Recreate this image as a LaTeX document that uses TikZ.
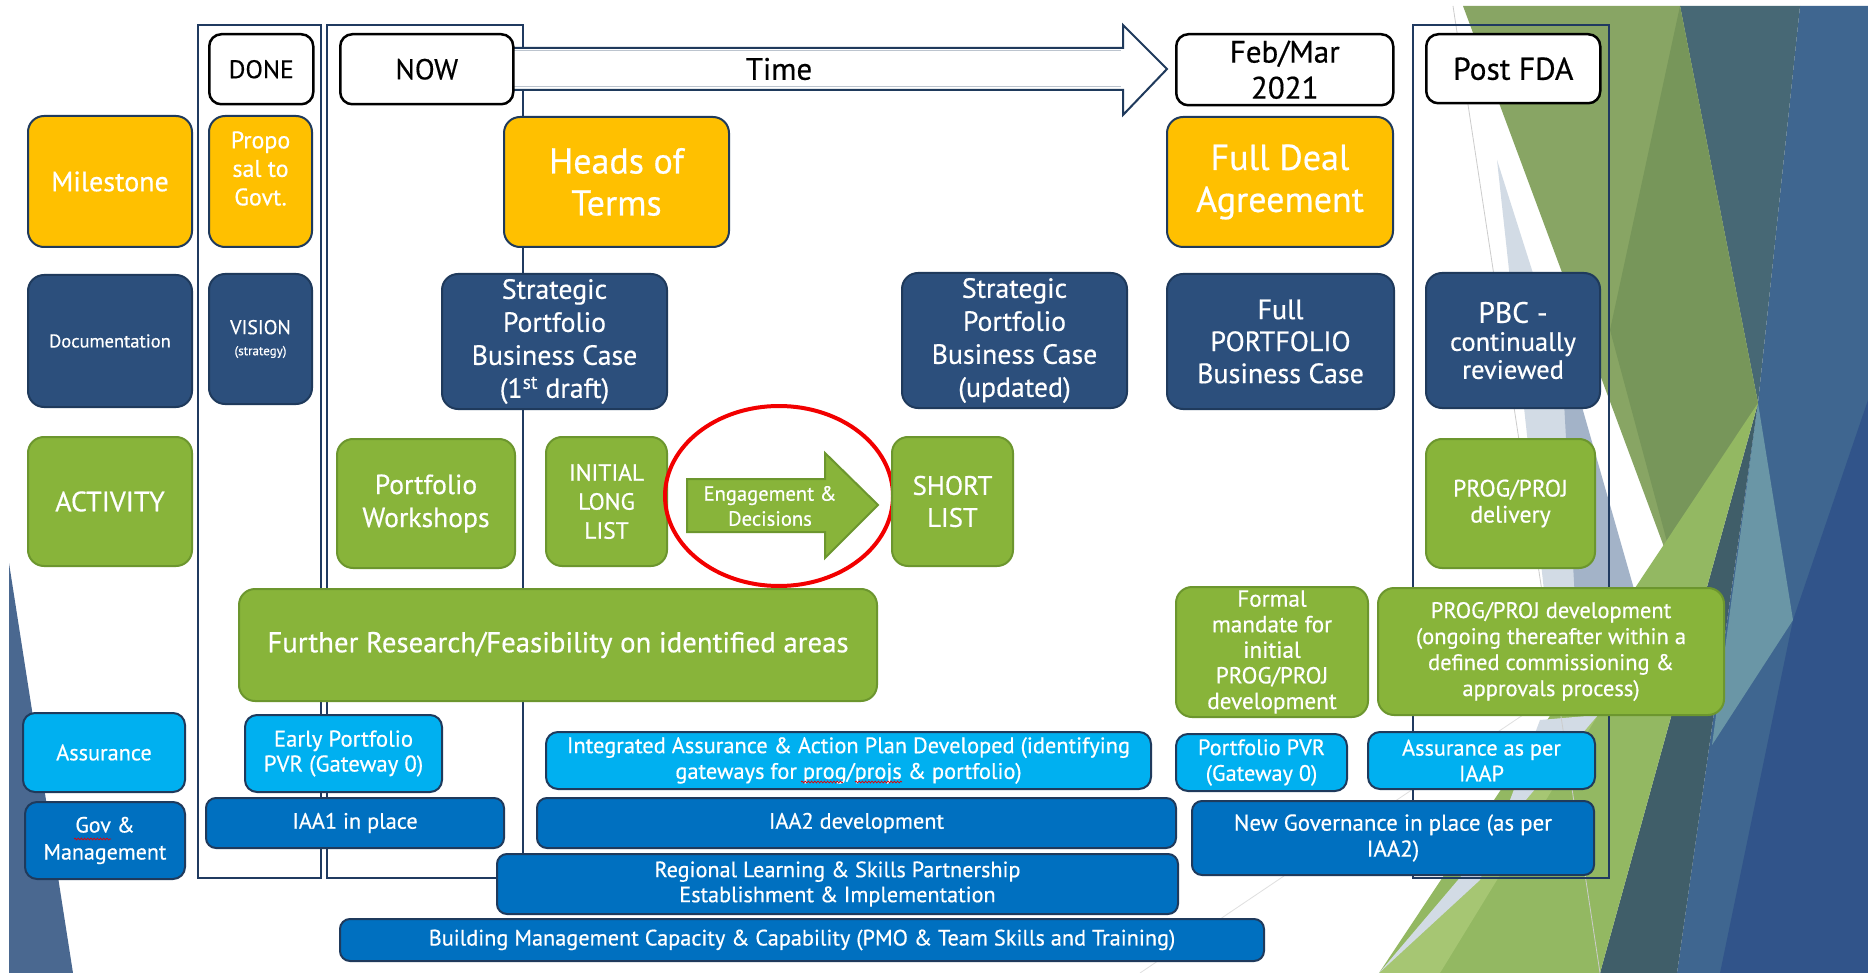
\documentclass[tikz,border=0pt]{standalone}
\usepackage{fontspec}
\setmainfont{PT Sans}[FakeBold=0.5]
\usetikzlibrary{shapes.geometric,decorations.pathmorphing}
\definecolor{cYel}{HTML}{FFC000}
\definecolor{cNavy}{HTML}{2C4F7C}
\definecolor{cNavyB}{HTML}{1F3A5C}
\definecolor{cGreen}{HTML}{88B43A}
\definecolor{cGreenB}{HTML}{6C962E}
\definecolor{cLBlue}{HTML}{00B0F0}
\definecolor{cMBlue}{HTML}{0070C0}
\definecolor{cFrame}{HTML}{203A60}
\definecolor{bgBlue}{HTML}{3F6690}
\definecolor{bgDBlue}{HTML}{31548A}
\definecolor{bgTeal}{HTML}{476875}
\definecolor{bgLTeal}{HTML}{6A96A6}
\definecolor{bgOlive}{HTML}{88A564}
\definecolor{bgDOlive}{HTML}{77965A}
\definecolor{bgGreen}{HTML}{93B862}
\definecolor{bgLGreen}{HTML}{A6C673}
\definecolor{bgGrey}{HTML}{D2DBE5}
\definecolor{bgGrey2}{HTML}{A3B3C8}
\definecolor{bgLeft}{HTML}{4A6890}
\newcommand\fz[2]{\fontsize{#1}{#2}\selectfont}
\newcommand\bx[7]{\node[#1, minimum width={(#5-#3)*1pt}, minimum height={(#6-#4)*1pt}, anchor=north west] (#2) at (#3,#4) {#7};}
\tikzset{
  basebox/.style={rounded corners=16pt, line width=2pt, align=center, inner sep=0pt, text=white},
  hdr/.style={basebox, rounded corners=12pt, fill=white, draw=black, line width=2.5pt, text=black},
  yel/.style={basebox, fill=cYel, draw=cNavyB},
  nav/.style={basebox, fill=cNavy, draw=cNavyB},
  grn/.style={basebox, fill=cGreen, draw=cGreenB},
  lbl/.style={basebox, rounded corners=12pt, fill=cLBlue, draw=cNavyB},
  mbl/.style={basebox, rounded corners=10pt, fill=cMBlue, draw=cNavyB},
  frame/.style={draw=cFrame, line width=2pt},
  squig/.style={draw=red!90!black, line width=0.7pt, decorate, decoration={snake, amplitude=0.9pt, segment length=3.2pt}}
}
\begin{document}
\begin{tikzpicture}[x=1pt,y=-1pt]
\useasboundingbox (0,0) rectangle (1868,973);
\fill[white] (0,0) rectangle (1868,973);
% ---------- background decoration ----------
\fill[bgLeft] (9,563) -- (73,973) -- (9,973) -- cycle;
\fill[bgBlue] (1800,6) -- (1868,6) -- (1868,973) -- (1677,973) -- (1758,403) -- cycle;
\fill[bgDBlue] (1868,400) -- (1868,973) -- (1720,973) -- (1793,620) -- cycle;
\fill[bgTeal] (1680,6) -- (1800,6) -- (1758,403) -- cycle;
\fill[bgTeal!90!black] (1600,973) -- (1758,403) -- (1677,973) -- cycle;
\fill[bgLTeal] (1758,403) -- (1793,620) -- (1712,745) -- cycle;
\fill[bgOlive] (1463,6) -- (1680,6) -- (1758,403) -- (1680,590) -- cycle;
\fill[bgDOlive] (1680,6) -- (1758,403) -- (1680,590) -- (1610,330) -- cycle;
\fill[bgGrey] (1497,160) -- (1640,610) -- (1545,600) -- cycle;
\fill[bgGrey2] (1560,330) -- (1640,610) -- (1575,600) -- cycle;
\fill[bgGreen] (1379,973) -- (1758,403) -- (1600,973) -- cycle;
\fill[bgLGreen] (1379,973) -- (1598,715) -- (1440,973) -- cycle;
\fill[bgGrey] (1379,973) -- (1598,715) -- (1540,720) -- (1480,880) -- cycle;
\draw[gray!40, line width=0.8pt] (1453,6) -- (1600,973);
\draw[gray!25, line width=0.8pt] (1560,690) -- (1140,973);
% ---------- column frames ----------
\draw[frame] (198,25) rectangle (321,878);
\draw[frame] (327,25) rectangle (523,878);
\draw[frame] (1413,25) rectangle (1609,878);
% ---------- time arrow ----------
\draw[draw=cNavyB, fill=white, line width=2pt] (500,48) -- (1123,48) -- (1123,25) -- (1167,69) -- (1123,115) -- (1123,90) -- (500,90) -- cycle;
\draw[cNavyB!30, line width=1pt] (512,51) -- (1121,51) (512,87) -- (1121,87);
\node[font=\fz{31}{34}] (time) at (779,69) {Time};
% ---------- headers ----------
\bx{hdr, font=\fz{25.5}{30}}{done}{208}{33}{312}{103}{DONE}
\bx{hdr, font=\fz{29}{30}}{now}{339}{33}{512}{103}{NOW}
\bx{hdr, font=\fz{31}{36}}{feb}{1175}{33}{1392}{104}{Feb/Mar\\2021}
\bx{hdr, font=\fz{31.5}{34}}{post}{1425}{33}{1599}{102}{Post FDA}
% ---------- row 1 ----------
\bx{yel, font=\fz{28}{32}}{milestone}{27}{115}{191}{246}{Milestone}
\bx{yel}{proposal}{208}{115}{311}{246}{}
\node[font=\fz{24}{28.5}, text=white, align=center] (proposaltext) at ([yshift=13pt]proposal.center) {Propo\\sal to\\Govt.};
\bx{yel, font=\fz{36}{42}}{heads}{503}{116}{728}{246}{Heads of\\Terms}
\bx{yel, font=\fz{36}{42}}{fda}{1166}{116}{1392}{246}{Full Deal\\Agreement}
% ---------- row 2 ----------
\bx{nav, font=\fz{18.5}{22}}{documentation}{27}{274}{191}{406}{Documentation}
\bx{nav, font=\fz{20}{21}}{vision}{208}{273}{311}{403}{VISION\\{\fz{13}{15}(strategy)}}
\bx{nav, font=\fz{27.8}{33}}{spbcA}{441}{273}{666}{408}{Strategic\\Portfolio\\Business Case\\(1\textsuperscript{st} draft)}
\bx{nav, font=\fz{27.8}{33}}{spbcB}{901}{272}{1126}{407}{Strategic\\Portfolio\\Business Case\\(updated)}
\bx{nav, font=\fz{28}{32}}{fpbc}{1166}{273}{1393}{408}{Full\\PORTFOLIO\\Business Case}
\bx{nav, font=\fz{26.5}{28}}{pbc}{1425}{272}{1599}{407}{{\fz{29.5}{29}PBC -}\\continually\\reviewed}
% ---------- row 3 ----------
\bx{grn, font=\fz{28}{32}}{activity}{27}{436}{191}{565}{ACTIVITY}
\bx{grn, font=\fz{27.6}{33}}{workshops}{336}{438}{514}{567}{Portfolio\\Workshops}
\bx{grn, font=\fz{23.5}{29}}{longlist}{545}{436}{666}{565}{INITIAL\\LONG\\LIST}
\draw[fill=cGreen, draw=cGreenB, line width=2pt] (687,479) -- (825,479) -- (825,453) -- (878,505) -- (825,558) -- (825,532) -- (687,532) -- cycle;
\node[font=\fz{20.6}{25}, text=white, align=center] (engage) at (770,506) {Engagement \&\\Decisions};
\node[ellipse, draw=red!95!black, line width=4pt, minimum width=228pt, minimum height=180pt] (ring) at (779,496) {};
\bx{grn, font=\fz{26.8}{32}}{shortlist}{891}{436}{1012}{565}{SHORT\\LIST}
\bx{grn, font=\fz{23.7}{26}}{delivery}{1425}{438}{1594}{567}{PROG/PROJ\\delivery}
% ---------- row 4 ----------
\bx{grn, font=\fz{28.8}{30}}{further}{238}{588}{876}{700}{Further Research/Feasibility on identified areas}
\bx{grn, font=\fz{23.2}{25.6}}{formal}{1175}{586}{1367}{716}{Formal\\mandate for\\initial\\PROG/PROJ\\development}
\bx{grn, font=\fz{22.5}{26}}{progdev}{1377}{587}{1723}{714}{PROG/PROJ development\\(ongoing thereafter within a\\defined commissioning \&\\approvals process)}
% ---------- row 5 ----------
\bx{lbl, font=\fz{22.3}{25}}{assurance}{22}{712}{184}{791}{Assurance}
\bx{lbl, font=\fz{22.8}{25}}{earlypvr}{244}{714}{441}{791}{Early Portfolio\\PVR (Gateway 0)}
\bx{lbl, font=\fz{22.4}{25.7}}{integrated}{545}{731}{1150}{788}{Integrated Assurance \& Action Plan Developed (identifying\\gateways for prog/projs \& portfolio)}
\bx{lbl, font=\fz{22.3}{25.7}}{pvr}{1175}{733}{1346}{790}{Portfolio PVR\\(Gateway 0)}
\bx{lbl, font=\fz{22.3}{25.7}}{iaap}{1367}{731}{1594}{788}{Assurance as per\\IAAP}
% ---------- row 6 ----------
\bx{mbl, rounded corners=12pt, font=\fz{22}{27}}{gov}{24}{801}{184}{878}{Gov \&\\Management}
\bx{mbl, font=\fz{22.3}{25}}{iaaA}{205}{797}{503}{847}{IAA1 in place}
\bx{mbl, font=\fz{22.3}{25}}{iaaB}{536}{797}{1175}{847}{IAA2 development}
\bx{mbl, font=\fz{22.9}{26}}{newgov}{1191}{800}{1593}{874}{New Governance in place (as per\\IAA2)}
\bx{mbl, font=\fz{22.2}{25}}{regional}{496}{853}{1177}{913}{Regional Learning \& Skills Partnership\\Establishment \& Implementation}
\bx{mbl, font=\fz{22.3}{25}}{building}{339}{918}{1263}{960}{Building Management Capacity \& Capability (PMO \& Team Skills and Training)}
% ---------- spell-check squiggles ----------
\draw[squig] (74,839) -- (111,839);
\draw[squig] (801,782) -- (843,782);
\draw[squig] (855,782) -- (902,782);
\end{tikzpicture}
\end{document}
